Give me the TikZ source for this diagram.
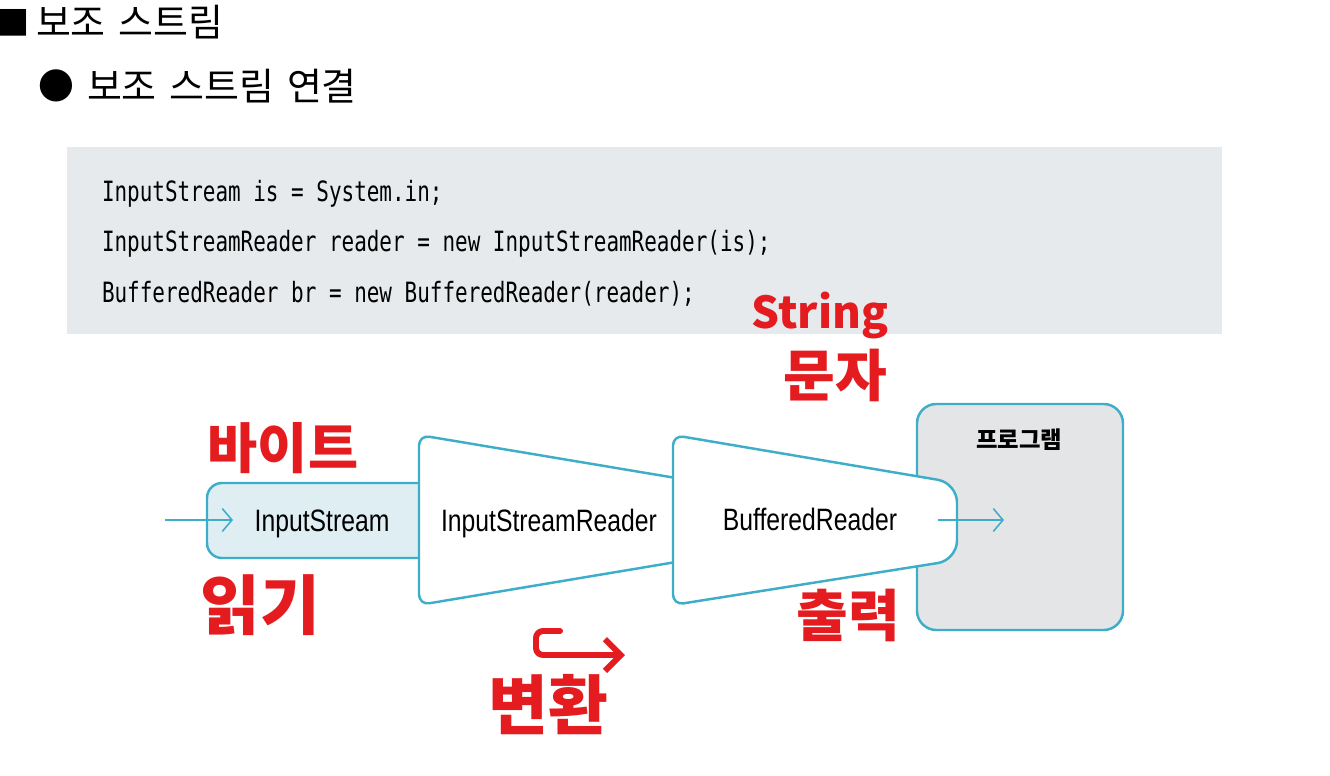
\documentclass[tikz,border=0pt]{standalone}
\usepackage{fontspec}
\usetikzlibrary{arrows.meta}
\setmainfont{Liberation Sans}
\newfontfamily\korfont{Noto Sans CJK KR}
\newfontfamily\headfont[WordSpace=1.5]{Noto Sans CJK KR}
\newfontfamily\codefont{DejaVu Sans Mono}
\definecolor{lineTeal}{RGB}{62,174,200}
\definecolor{softCyan}{RGB}{222,238,243}
\definecolor{codeGray}{RGB}{231,234,236}
\definecolor{progGray}{RGB}{228,229,231}
\definecolor{penRed}{RGB}{228,28,32}
\newcommand{\cw}[2][0.8]{\scalebox{#1}[1]{#2}}

\begin{document}
\begin{tikzpicture}[x=0.02cm,y=-0.02cm,line join=round,every node/.style={inner sep=0pt,outer sep=0pt},
  heading/.style={font=\headfont\fontsize{21.6}{24}\selectfont,anchor=base west},
  codeline/.style={font=\codefont\fontsize{15.9}{19}\selectfont,anchor=base west},
  stream/.style={draw=lineTeal,line width=1.4pt},
  streamname/.style={font=\fontsize{17.6}{21}\selectfont,anchor=base},
  flow/.style={draw=lineTeal,line width=0.9pt,-{Straight Barb[length=5.5pt,width=13pt]}},
  pen/.style={text=penRed,font=\korfont\bfseries\fontsize{#1}{#1}\selectfont}]
\useasboundingbox (0,0) rectangle (1330,775);
\node[heading,font=\korfont\fontsize{19}{22}\selectfont] (sq) at (-4,35) {■};
\node[heading] (title) at (36,36) {보조 스트림};
\node[heading,font=\korfont\fontsize{20.4}{24}\selectfont] (dot) at (38,99) {●};
\node[heading] (subtitle) at (87,100) {보조 스트림 연결};
\fill[codeGray] (67,147) rectangle (1222,334);
\node[codeline] (code1) at (102,201) {\cw[0.75]{InputStream is = System.in;}};
\node[codeline] (code2) at (102,251) {\cw[0.75]{InputStreamReader reader = new InputStreamReader(is);}};
\node[codeline] (code3) at (102,302) {\cw[0.75]{BufferedReader br = new BufferedReader(reader);}};
\draw[stream,fill=progGray,rounded corners=11pt] (917,404) rectangle (1123,630);
\node[font=\korfont\bfseries\fontsize{13.3}{15}\selectfont] (prog) at (1019,440) {프로그램};
\draw[stream,fill=softCyan,rounded corners=8.5pt] (207,483) rectangle (460,558);
\draw[stream,fill=white,rounded corners=6pt] (419,520) -- (419,435) -- (700,482) -- (700,558) -- (419,605) -- cycle;
\draw[stream,fill=white,rounded corners=6pt] (673,520) -- (673,435) [rounded corners=11pt] -- (957,483) -- (957,560) [rounded corners=6pt] -- (673,605) -- cycle;
\node[streamname] (isname) at (322,531) {\cw{InputStream}};
\node[streamname] (isrname) at (549,531) {\cw{InputStreamReader}};
\node[streamname] (brname) at (810,530) {\cw{BufferedReader}};
\coordinate (inTail) at (165,520);
\coordinate (inHead) at (233,520);
\coordinate (outTail) at (938,520);
\coordinate (outHead) at (1004,520);
\draw[flow] (inTail) -- (inHead);
\draw[flow] (outTail) -- (outHead);
\node[pen=31] (byteNote) at (283,448) {바이트};
\node[pen=37] (readNote) at (260,605) {읽기};
\node[pen=25] (stringNote) at (820,315) {String};
\node[pen=32] (charNote) at (835,375) {문자};
\node[pen=32] (outNote) at (848,615) {출력};
\node[pen=37] (convNote) at (548,705) {변환};
\coordinate (hookA) at (560,631);
\coordinate (hookB) at (536,631);
\coordinate (hookC) at (536,655);
\coordinate (hookD) at (625,655);
\draw[penRed,line width=3.4pt,line cap=round,rounded corners=4pt,-{Straight Barb[length=9pt,width=18pt]}] (hookA) -- (hookB) -- (hookC) -- (hookD);
\end{tikzpicture}
\end{document}
